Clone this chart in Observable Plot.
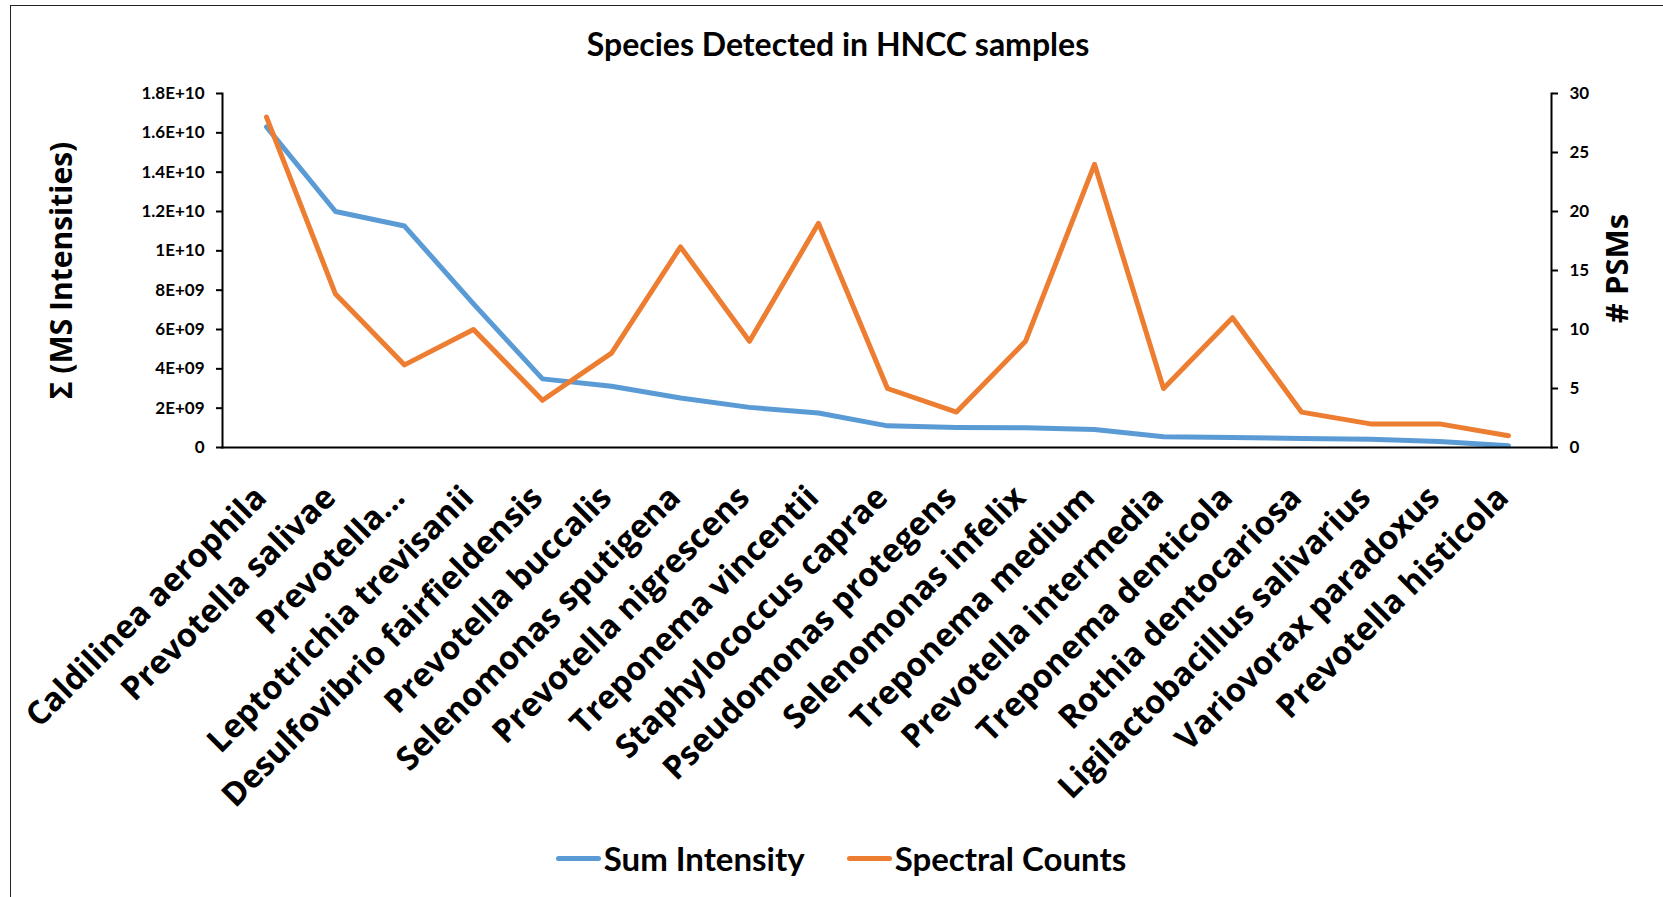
<!DOCTYPE html>
<html><head><meta charset="utf-8">
<script src="https://cdn.jsdelivr.net/npm/d3@7"></script>
<script src="https://cdn.jsdelivr.net/npm/@observablehq/plot@0.6"></script>
<style>
html,body{margin:0;padding:0;background:#fff;overflow:hidden;}
#wrap{position:relative;width:1663px;height:897px;overflow:hidden;}
#border{position:absolute;left:10px;top:5px;width:1700px;height:1000px;border-top:1.5px solid #222;border-left:1.5px solid #222;}
#title{position:absolute;left:0;width:1676px;top:24px;text-align:center;font:700 32px Lato;color:#000;}
#chart{position:absolute;left:0;top:0;}
#legend{position:absolute;top:838px;left:0;width:1682px;display:flex;justify-content:center;align-items:center;font:700 33px Lato;color:#000;}
.item{display:flex;align-items:center;}
.sw{width:45px;height:5px;border-radius:2.5px;margin-right:3px;}
</style>
</head><body>
<div id="wrap">
  <div id="border"></div>
  <div id="chart"></div>
  <div id="title"></div>
  <div id="legend"></div>
</div>
<script>
const species = [
  "Caldilinea aerophila", "Prevotella salivae", "Prevotella...", "Leptotrichia trevisanii",
  "Desulfovibrio fairfieldensis", "Prevotella buccalis", "Selenomonas sputigena",
  "Prevotella nigrescens", "Treponema vincentii", "Staphylococcus caprae",
  "Pseudomonas protegens", "Selenomonas infelix", "Treponema medium",
  "Prevotella intermedia", "Treponema denticola", "Rothia dentocariosa",
  "Ligilactobacillus salivarius", "Variovorax paradoxus", "Prevotella histicola"
];
const sumIntensity = [
  1.63e10, 1.20e10, 1.126e10, 7.3e9, 3.49e9, 3.11e9, 2.52e9, 2.04e9, 1.75e9, 1.10e9,
  1.02e9, 1.00e9, 0.92e9, 0.55e9, 0.51e9, 0.46e9, 0.42e9, 0.31e9, 0.09e9
];
const spectralCounts = [28, 13, 7, 10, 4, 8, 17, 9, 19, 5, 3, 9, 24, 5, 11, 3, 2, 2, 1];
const leftTicks = [0, 2e9, 4e9, 6e9, 8e9, 1e10, 1.2e10, 1.4e10, 1.6e10, 1.8e10];
const leftTickLabels = ["0", "2E+09", "4E+09", "6E+09", "8E+09", "1E+10", "1.2E+10", "1.4E+10", "1.6E+10", "1.8E+10"];
const rightTicks = [0, 5, 10, 15, 20, 25, 30];
const seriesNames = ["Sum Intensity", "Spectral Counts"];
const seriesColors = ["#5B9BD5", "#ED7D31"];
const title = "Species Detected in HNCC samples";
const leftTitle = "Σ (MS Intensities)";
const rightTitle = "# PSMs";

const leftMax = 1.8e10, rightMax = 30;
const k = leftMax / rightMax;

const data = species.map((s, i) => ({species: s, intensity: sumIntensity[i], psm: spectralCounts[i]}));

const tickFont = "Lato, 'Open Sans', sans-serif";
const labelFont = "'Open Sans', 'DejaVu Sans', sans-serif";

const chart = Plot.plot({
  width: 1663,
  height: 830,
  marginLeft: 222,
  marginRight: 112,
  marginTop: 93,
  marginBottom: 383,
  style: {background: "transparent", color: "#000", overflow: "visible"},
  x: {type: "point", domain: species, padding: 0.5},
  y: {domain: [0, leftMax]},
  marks: [
    Plot.lineY(data, {x: "species", y: "intensity", stroke: seriesColors[0], strokeWidth: 5, strokeLinejoin: "round", strokeLinecap: "round"}),
    Plot.lineY(data, {x: "species", y: d => d.psm * k, stroke: seriesColors[1], strokeWidth: 5, strokeLinejoin: "round", strokeLinecap: "round"}),
    Plot.frame({anchor: "left", stroke: "#000", strokeWidth: 2}),
    Plot.frame({anchor: "right", stroke: "#000", strokeWidth: 2}),
    Plot.frame({anchor: "bottom", stroke: "#000", strokeWidth: 2}),
    Plot.axisY({anchor: "left", ticks: leftTicks, tickFormat: d => leftTickLabels[leftTicks.indexOf(d)], tickSize: 6, tickPadding: 12, fontSize: 17, fontWeight: 700, fontFamily: tickFont, label: null, strokeWidth: 2}),
    Plot.axisY({anchor: "right", ticks: rightTicks.map(v => v * k), tickFormat: d => String(Math.round(d / k)), tickSize: 6, tickPadding: 12, fontSize: 17, fontWeight: 700, fontFamily: tickFont, label: null, strokeWidth: 2}),
    Plot.axisX({anchor: "bottom", tickSize: 0, tickPadding: 0, tickRotate: -45, textAnchor: "end", lineAnchor: "bottom", dx: 2, dy: 52, fontSize: 32.5, fontWeight: 700, fontFamily: labelFont, label: null}),
    Plot.text([leftTitle], {frameAnchor: "left", textAnchor: "middle", dx: -160, rotate: -90, fontSize: 30, fontWeight: 700, fontFamily: labelFont, fill: "#000"}),
    Plot.text([rightTitle], {frameAnchor: "right", textAnchor: "middle", dx: 67, dy: -2, rotate: -90, fontSize: 31, fontWeight: 700, fontFamily: labelFont, fill: "#000"})
  ]
});
document.getElementById("chart").appendChild(chart);
document.getElementById("title").textContent = title;

const legend = document.getElementById("legend");
seriesNames.forEach((n, i) => {
  const it = document.createElement("div");
  it.className = "item";
  it.style.marginRight = i === 0 ? "42px" : "0";
  const sw = document.createElement("div");
  sw.className = "sw";
  sw.style.background = seriesColors[i];
  const tx = document.createElement("span");
  tx.textContent = n;
  it.appendChild(sw); it.appendChild(tx);
  legend.appendChild(it);
});
</script>
</body></html>
